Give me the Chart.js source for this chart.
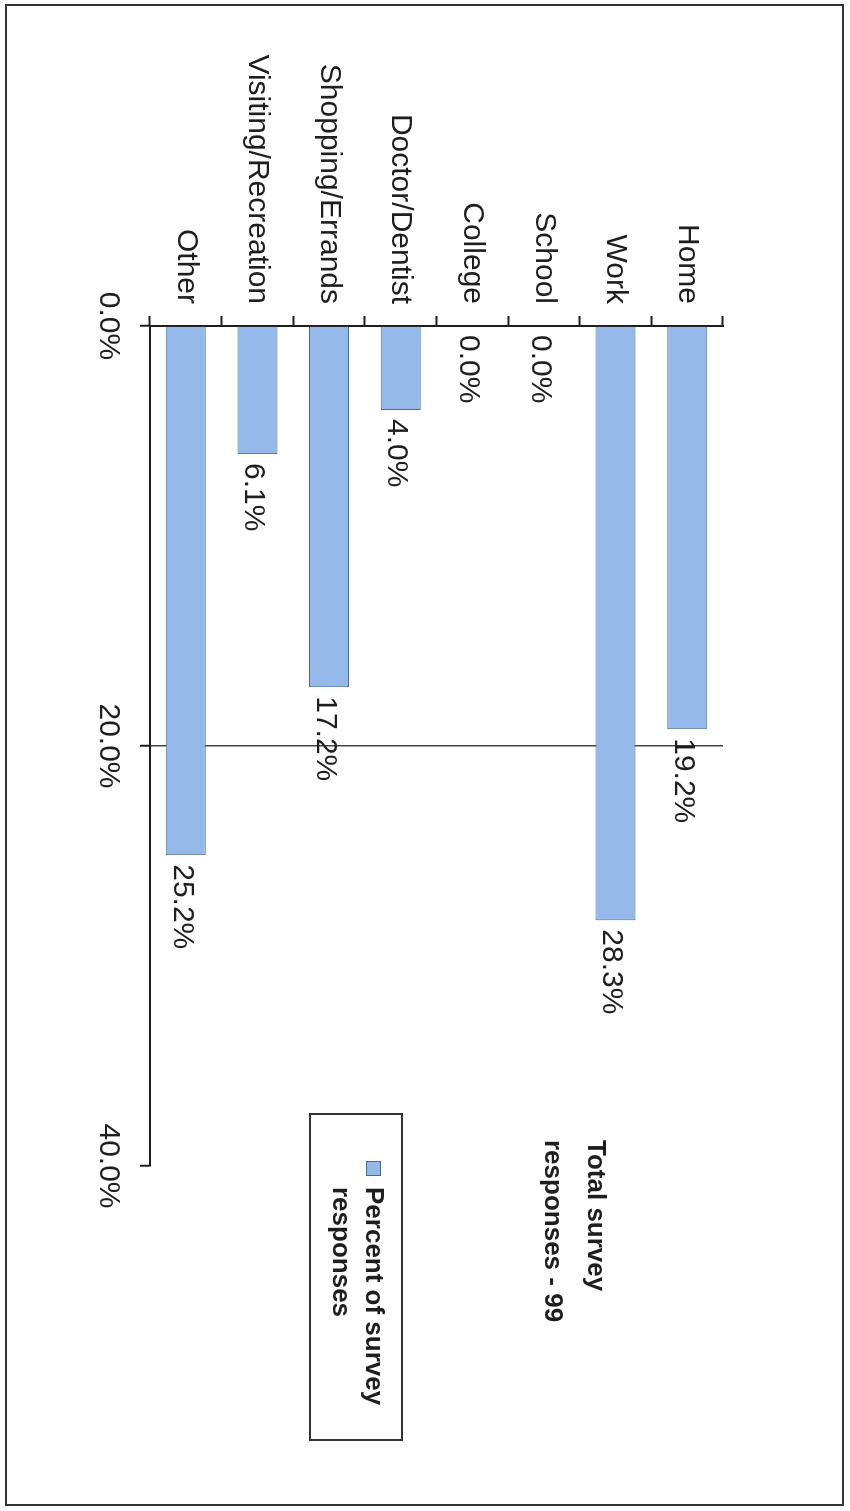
<!DOCTYPE html>
<html>
<head>
    <title>Trip Purpose</title>
    <style>
        html, body { margin: 0; padding: 0; background: #ffffff; overflow: hidden; }
        /* the scanned page is turned a quarter turn clockwise */
        #page {
            position: absolute;
            left: 0;
            top: 0;
            width: 1511px;
            height: 850px;
            transform-origin: 0 0;
            transform: translate(850px, 0) rotate(90deg);
        }
    </style>
</head>
<body>
    <div id="page">
        <canvas id="tripChart" width="1511" height="850"></canvas>
    </div>

    <script src="https://cdn.jsdelivr.net/npm/chart.js"></script>
    <script>
        // Data
        const purposes = ['Home', 'Work', 'School', 'College', 'Doctor/Dentist',
                          'Shopping/Errands', 'Visiting/Recreation', 'Other'];
        const shares = [19.2, 28.3, 0.0, 0.0, 4.0, 17.2, 6.1, 25.2];
        const seriesLabel = 'Percent of survey responses';
        const legendLines = ['Percent of survey', 'responses'];
        const noteLines = ['Total survey', 'responses - 99'];
        const axisTicks = [0, 20, 40];

        const barFill = '#95b9e8';
        const barEdge = '#4d6a8c';
        const ink = '#1e1e1e';
        const fontFamily = 'Arial, "Liberation Sans", sans-serif';

        // value labels at the end of each bar
        const valueLabels = {
            id: 'valueLabels',
            afterDatasetsDraw(chart) {
                const ctx = chart.ctx;
                const meta = chart.getDatasetMeta(0);
                ctx.save();
                ctx.font = '30px ' + fontFamily;
                ctx.fillStyle = ink;
                ctx.textAlign = 'left';
                ctx.textBaseline = 'middle';
                meta.data.forEach((bar, i) => {
                    ctx.fillText(shares[i].toFixed(1) + '%', bar.x + 9, bar.y + 4);
                });
                ctx.restore();
            }
        };

        // page frame, legend box and the response count note
        const pageExtras = {
            id: 'pageExtras',
            beforeDraw(chart) {
                const ctx = chart.ctx;
                ctx.save();
                ctx.fillStyle = '#ffffff';
                ctx.fillRect(0, 0, chart.width, chart.height);
                ctx.restore();
            },
            afterDraw(chart) {
                const ctx = chart.ctx;
                ctx.save();
                // frame
                ctx.strokeStyle = '#333333';
                ctx.lineWidth = 2;
                ctx.strokeRect(5, 7, 1500, 837);

                // legend
                ctx.lineWidth = 2;
                ctx.strokeRect(1114, 448, 326, 92);
                ctx.fillStyle = barFill;
                ctx.fillRect(1161, 469, 15, 15);
                ctx.strokeStyle = barEdge;
                ctx.lineWidth = 1;
                ctx.strokeRect(1161.5, 469.5, 14, 14);
                ctx.fillStyle = ink;
                ctx.font = 'bold 26px ' + fontFamily;
                ctx.textAlign = 'left';
                ctx.textBaseline = 'alphabetic';
                ctx.fillText(legendLines[0], 1187, 484);
                ctx.fillText(legendLines[1], 1187, 517);

                // note
                ctx.fillText(noteLines[0], 1140, 262);
                ctx.fillText(noteLines[1], 1140, 305);
                ctx.restore();
            }
        };

        const ctx = document.getElementById('tripChart').getContext('2d');
        const tripChart = new Chart(ctx, {
            type: 'bar',
            data: {
                labels: purposes,
                datasets: [{
                    label: seriesLabel,
                    data: shares,
                    backgroundColor: barFill,
                    borderColor: barEdge,
                    borderWidth: 1,
                    categoryPercentage: 1.0,
                    barPercentage: 0.56
                }]
            },
            options: {
                indexAxis: 'y',
                responsive: false,
                animation: false,
                layout: {
                    padding: { left: 0, top: 127, right: 345, bottom: 0 }
                },
                plugins: {
                    legend: { display: false },
                    tooltip: { enabled: false }
                },
                scales: {
                    x: {
                        min: 0,
                        max: 40,
                        afterFit: (scale) => { scale.height = 150; },
                        afterBuildTicks: (scale) => {
                            scale.ticks = axisTicks.map(v => ({ value: v }));
                        },
                        ticks: {
                            color: ink,
                            font: { size: 30, family: fontFamily },
                            padding: 14,
                            maxRotation: 0,
                            callback: (v) => Number(v).toFixed(1) + '%'
                        },
                        grid: {
                            color: (c) => (c.tick && c.tick.value === 20) ? '#444444' : 'rgba(0,0,0,0)',
                            tickColor: ink,
                            lineWidth: 1.5,
                            tickWidth: 2,
                            tickLength: 10
                        },
                        border: { display: true, color: ink, width: 2 }
                    },
                    y: {
                        afterFit: (scale) => { scale.width = 326; },
                        ticks: {
                            color: ink,
                            font: { size: 30, family: fontFamily },
                            padding: 12,
                            autoSkip: false
                        },
                        grid: {
                            drawOnChartArea: false,
                            color: ink,
                            tickColor: ink,
                            tickWidth: 2,
                            tickLength: 10
                        },
                        border: { display: true, color: ink, width: 2 }
                    }
                }
            },
            plugins: [pageExtras, valueLabels]
        });
    </script>
</body>
</html>
